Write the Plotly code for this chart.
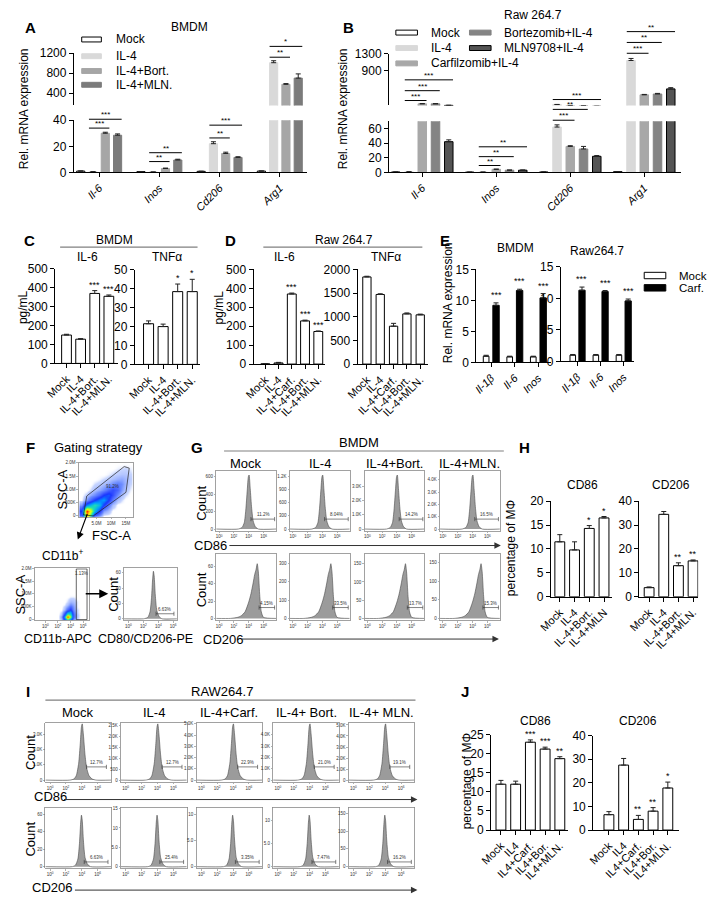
import plotly.graph_objects as go

W, H = 709, 904
FONT = "Arial, Liberation Sans, sans-serif"

# ======================= DATA =======================
# Panel A  (BMDM qPCR)
A_GENES = ["Il-6", "Inos", "Cd206", "Arg1"]
A_SERIES = ["Mock", "IL-4", "IL-4+Bort.", "IL-4+MLN."]
A_MOCK = [1.0, 0.6, 0.8, 1.0]
A_IL4 = [0.5, 0.3, 22.0, 1010.0]
A_BORT = [30.0, 3.0, 14.5, 575.0]
A_MLN = [28.5, 9.5, 11.5, 700.0]
A_MOCK_SD = [0.1, 0.1, 0.1, 0.1]
A_IL4_SD = [0.1, 0.05, 1.5, 40.0]
A_BORT_SD = [0.8, 0.3, 1.0, 15.0]
A_MLN_SD = [1.0, 0.6, 0.5, 85.0]
A_SIG = ["***", "***", "**", "**", "***", "**", "*", "**"]

# Panel B  (Raw 264.7 qPCR)
B_GENES = ["Il-6", "Inos", "Cd206", "Arg1"]
B_SERIES = ["Mock", "IL-4", "Carfilzomib+IL-4", "Bortezomib+IL-4", "MLN9708+IL-4"]
B_MOCK = [0.5, 0.3, 0.5, 1.0]
B_IL4 = [0.8, 0.4, 62.0, 1140.0]
B_CARF = [80.0, 4.2, 35.5, 300.0]
B_BORT = [80.0, 3.0, 32.0, 320.0]
B_MLN = [42.0, 3.0, 22.0, 445.0]
B_MOCK_SD = [0.1, 0.1, 0.1, 0.1]
B_IL4_SD = [0.1, 0.1, 3.0, 50.0]
B_CARF_SD = [5.0, 0.3, 1.0, 10.0]
B_BORT_SD = [5.0, 0.3, 3.5, 15.0]
B_MLN_SD = [2.5, 0.3, 1.0, 30.0]
B_SIG = ["***", "***", "***", "**", "**", "**", "***", "**", "***", "**", "**", "***"]

# Panel C  (BMDM ELISA)
C_CATS = ["Mock", "IL-4", "IL-4+Bort.", "IL-4+MLN."]
C_IL6 = [150, 128, 370, 355]
C_IL6_SD = [4, 3, 15, 7]
C_IL6_SIG = ["", "", "***", "***"]
C_TNF = [21.5, 20.0, 38.5, 38.5]
C_TNF_SD = [1.5, 1.3, 4.0, 6.5]
C_TNF_SIG = ["", "", "*", "*"]

# Panel D  (Raw 264.7 ELISA)
D_CATS = ["Mock", "IL-4", "IL-4+Carf.", "IL-4+Bort.", "IL-4+MLN."]
D_IL6 = [1, 6, 370, 228, 172]
D_IL6_SD = [0.5, 3, 5, 4, 3]
D_IL6_SIG = ["", "", "***", "***", "***"]
D_TNF = [1840, 1470, 800, 1060, 1040]
D_TNF_SD = [15, 15, 60, 20, 15]

# Panel E
E_GENES = ["Il-1β", "Il-6", "Inos"]
E_BMDM_MOCK = [1.0, 0.9, 0.9]
E_BMDM_MOCK_SD = [0.15, 0.1, 0.1]
E_BMDM_CARF = [9.2, 11.6, 10.4]
E_BMDM_CARF_SD = [0.4, 0.2, 0.7]
E_RAW_MOCK = [1.0, 1.0, 1.0]
E_RAW_MOCK_SD = [0.1, 0.1, 0.1]
E_RAW_CARF = [11.3, 11.1, 9.6]
E_RAW_CARF_SD = [0.5, 0.15, 0.3]
E_SIG = ["***", "***", "***"]

# Panel H
H_CD86_CATS = ["Mock", "IL-4", "IL-4+Bort.", "IL-4+MLN"]
H_CD206_CATS = ["Mock", "IL-4", "IL-4+Bort.", "IL-4+MLN."]
H_CD86 = [11.5, 9.8, 14.3, 16.5]
H_CD86_SD = [1.5, 1.7, 0.6, 0.3]
H_CD86_SIG = ["", "", "*", "*"]
H_CD206 = [3.8, 34.5, 13.0, 15.0]
H_CD206_SD = [0.3, 1.2, 1.2, 0.4]
H_CD206_SIG = ["", "", "**", "**"]

# Panel J
J_CATS = ["Mock", "IL4", "IL4+Carf.", "IL4+Bor.", "IL4+MLN."]
J_CD86 = [12.0, 12.0, 23.0, 21.2, 18.7]
J_CD86_SD = [1.0, 0.8, 0.6, 0.5, 0.5]
J_CD86_SIG = ["", "", "***", "***", "**"]
J_CD206 = [6.5, 27.5, 4.5, 8.0, 17.8]
J_CD206_SD = [1.3, 2.8, 1.7, 1.5, 2.5]
J_CD206_SIG = ["", "", "**", "**", "*"]

# Panel F  (gating)
FSC_M = [0, 1.5, 3, 4.5, 6, 7.5, 9, 10.5, 12, 13.5, 15, 16.5]
SSC_M = [0, 0.2, 0.4, 0.6, 0.8, 1.0, 1.2, 1.4, 1.6, 1.8, 2.0]
FSC_SSC_DENSITY = [
    [2, 9, 6, 2, 1, 0, 0, 0, 0, 0, 0, 0],
    [3, 10, 8, 5, 3, 1, 0.5, 0, 0, 0, 0, 0],
    [1, 4, 5, 6, 5, 3, 1.5, 0.5, 0, 0, 0, 0],
    [0, 1, 2, 3, 4, 4.5, 3, 1.5, 0.5, 0.2, 0, 0],
    [0, 0.3, 0.8, 1.2, 2, 3, 3.5, 2.5, 1.2, 0.5, 0.2, 0],
    [0, 0, 0.2, 0.5, 0.8, 1.2, 2, 2.5, 2, 1, 0.4, 0.1],
    [0, 0, 0, 0.2, 0.3, 0.5, 0.8, 1.2, 1.5, 1.2, 0.6, 0.2],
    [0, 0, 0, 0, 0.1, 0.2, 0.3, 0.5, 0.7, 0.8, 0.6, 0.3],
    [0, 0, 0, 0, 0, 0, 0.1, 0.2, 0.3, 0.4, 0.4, 0.2],
    [0, 0, 0, 0, 0, 0, 0, 0, 0.1, 0.15, 0.2, 0.1],
    [0, 0, 0, 0, 0, 0, 0, 0, 0, 0, 0, 0],
]
GATE1_X = [0.6, 3.9, 15.0, 16.1, 14.4, 1.7, 0.6]
GATE1_Y = [0.04, 0.0, 0.89, 1.8, 1.86, 0.75, 0.04]
GATE1_PCT = "91.2%"

CD11B_LOG = [2.0, 2.5, 3.0, 3.5, 4.0, 4.5, 5.0, 5.5]
CD11B_SSC = [0, 0.1, 0.2, 0.3, 0.4, 0.5, 0.6, 0.7, 0.8, 0.9, 1.0]
CD11B_DENSITY = [
    [0, 0.5, 3, 6, 4, 1, 0.2, 0],
    [0, 1, 5, 10, 7, 2, 0.3, 0],
    [0, 0.5, 3, 7, 6, 2, 0.3, 0],
    [0, 0.2, 1.5, 4, 4.5, 1.5, 0.2, 0],
    [0, 0, 0.6, 2, 3, 1.2, 0.2, 0],
    [0, 0, 0.3, 1, 2, 1, 0.1, 0],
    [0, 0, 0.1, 0.5, 1.2, 0.8, 0.1, 0],
    [0, 0, 0, 0.2, 0.6, 0.5, 0.1, 0],
    [0, 0, 0, 0.1, 0.3, 0.3, 0, 0],
    [0, 0, 0, 0, 0.1, 0.1, 0, 0],
    [0, 0, 0, 0, 0, 0, 0, 0],
]
GATE2_X = [4.9, 6.6, 6.6, 4.9, 4.9]
GATE2_Y = [0.0, 0.0, 1.97, 1.97, 0.0]
GATE2_PCT = "1.13%"

F_HIST_X = [-0.6, 2.0, 2.6, 2.9, 3.1, 3.25, 3.35, 3.45, 3.6, 3.8, 4.1, 4.5, 6.5]
F_HIST_Y = [0, 0, 0.03, 0.15, 0.45, 0.85, 1.0, 0.9, 0.5, 0.18, 0.05, 0, 0]
F_HIST_PEAK = 62
F_HIST_PCT = "6.63%"

# Panel G  (BMDM flow histograms)
G_TITLES = ["Mock", "IL-4", "IL-4+Bort.", "IL-4+MLN."]
G_CD86_X = [-0.4, 2.6, 3.1, 3.4, 3.6, 3.8, 3.95, 4.05, 4.2, 4.4, 4.6, 4.9, 5.3, 7.7]
G_CD86_Y = [0, 0, 0.03, 0.12, 0.35, 0.72, 0.97, 1.0, 0.75, 0.38, 0.15, 0.04, 0, 0]
G_CD86_PEAK = [620, 1230, 3800, 4380]
G_CD86_TICKS = [[0, 200, 400, 600], [0, 300, 600, 900, 1200], [0, 1000, 2000, 3000],
                [0, 1000, 2000, 3000, 4000]]
G_CD86_TICKTEXT = [["0", "200", "400", "600"], ["0", "300", "600", "900", "1.2K"],
                   ["0", "1.0K", "2.0K", "3.0K"], ["0", "1.0K", "2.0K", "3.0K", "4.0K"]]
G_CD86_PCT = ["11.2%", "8.04%", "14.2%", "16.5%"]

G_CD206_X = [-0.4, 1.5, 2.5, 3.0, 3.5, 4.0, 4.3, 4.6, 4.8, 5.0, 5.15, 5.3, 5.5, 5.7, 6.0, 7.7]
G_CD206_Y = [0, 0, 0.02, 0.05, 0.12, 0.3, 0.45, 0.65, 0.8, 0.9, 1.0, 0.85, 0.4, 0.12, 0.02, 0]
G_CD206_PEAK = [63, 299, 150, 147]
G_CD206_TICKS = [[0, 20, 40, 60], [0, 100, 200, 300], [0, 50, 100, 150], [0, 50, 100, 150]]
G_CD206_TICKTEXT = [["0", "20", "40", "60"], ["0", "100", "200", "300"],
                    ["0", "50", "100", "150"], ["0", "50", "100", "150"]]
G_CD206_PCT = ["4.15%", "33.5%", "13.7%", "15.3%"]

# Panel I  (RAW264.7 flow histograms)
I_TITLES = ["Mock", "IL-4", "IL-4+Carf.", "IL-4+ Bort.", "IL-4+ MLN."]
I_CD86_X = [-0.6, 2.5, 3.0, 3.3, 3.6, 3.8, 3.95, 4.05, 4.2, 4.4, 4.6, 4.9, 5.3, 5.8, 7.7]
I_CD86_Y = [0, 0, 0.02, 0.08, 0.3, 0.65, 0.95, 1.0, 0.8, 0.45, 0.22, 0.08, 0.02, 0, 0]
I_CD86_PEAK = [3700, 2570, 5000, 4960, 5100]
I_CD86_TICKS = [[0, 1000, 2000, 3000], [0, 500, 1000, 1500, 2000, 2500],
                [0, 1000, 2000, 3000, 4000, 5000], [0, 1000, 2000, 3000, 4000],
                [0, 1000, 2000, 3000, 4000, 5000]]
I_CD86_TICKTEXT = [["0", "1.0K", "2.0K", "3.0K"], ["0", "500", "1.0K", "1.5K", "2.0K", "2.5K"],
                   ["0", "1.0K", "2.0K", "3.0K", "4.0K", "5.0K"], ["0", "1.0K", "2.0K", "3.0K", "4.0K"],
                   ["0", "1.0K", "2.0K", "3.0K", "4.0K", "5.0K"]]
I_CD86_PCT = ["12.7%", "12.7%", "22.9%", "21.0%", "19.1%"]

I_CD206_X = [-0.6, 2.8, 3.2, 3.5, 3.7, 3.85, 3.95, 4.05, 4.2, 4.4, 4.7, 5.1, 7.7]
I_CD206_Y = [0, 0, 0.03, 0.15, 0.45, 0.85, 1.0, 0.9, 0.5, 0.18, 0.05, 0, 0]
I_CD206_PEAK = [59, 13.3, 9.8, 11.2, 145]
I_CD206_TICKS = [[0, 20, 40, 60], [0, 5, 10, 15], [0, 5, 10, 15], [0, 5, 10, 15], [0, 50, 100, 150]]
I_CD206_TICKTEXT = [["0", "20", "40", "60"], ["0", "5.0", "10", "15"], ["0", "5.0", "10", "15"],
                    ["0", "5.0", "10", "15"], ["0", "50", "100", "150"]]
I_CD206_PCT = ["6.63%", "25.4%", "3.35%", "7.47%", "16.2%"]

LOG_TICKS = [0, 2, 4, 6]
LOG_TICKTEXT = ["10<sup>0</sup>", "10<sup>2</sup>", "10<sup>4</sup>", "10<sup>6</sup>"]

# ======================= LAYOUT HELPERS =======================
fig = go.Figure()
axes = {}
annotations = []
shapes = []
_axn = [0]
TINY = 4.5


def new_axes(x0, x1, ytop, ybot, xa, ya):
    _axn[0] += 1
    n = _axn[0]
    s = "" if n == 1 else str(n)
    xa = dict(xa)
    ya = dict(ya)
    xa.update(domain=[x0 / W, x1 / W], anchor="y" + s)
    ya.update(domain=[1 - ybot / H, 1 - ytop / H], anchor="x" + s)
    axes["xaxis" + s] = xa
    axes["yaxis" + s] = ya
    return "x" + s, "y" + s


def text(x, y, s, size=12, bold=False, anchor="center", angle=0, color="black"):
    annotations.append(dict(
        x=x / W, y=1 - y / H, xref="paper", yref="paper",
        text=("<b>%s</b>" % s) if bold else s, showarrow=False,
        font=dict(size=size, color=color, family=FONT),
        xanchor=anchor, yanchor="middle", textangle=angle))


def hline(x0, x1, y, color="#808080", width=1.2):
    shapes.append(dict(type="line", xref="paper", yref="paper", x0=x0 / W, x1=x1 / W,
                       y0=1 - y / H, y1=1 - y / H, line=dict(color=color, width=width)))


def rect(x0, x1, y0, y1, fill, line):
    shapes.append(dict(type="rect", xref="paper", yref="paper", x0=x0 / W, x1=x1 / W,
                       y0=1 - y1 / H, y1=1 - y0 / H, fillcolor=fill,
                       line=dict(color=line, width=1)))


def arrow(xh, yh, xt, yt, width=1.0, size=1.0, color="black"):
    annotations.append(dict(x=xh / W, y=1 - yh / H, xref="paper", yref="paper",
                            ax=xt - xh, ay=yt - yh, showarrow=True, arrowhead=2,
                            arrowsize=size, arrowwidth=width, arrowcolor=color, text=""))


BX = dict(type="category", showline=True, linecolor="black", linewidth=1, ticks="outside",
          ticklen=4, tickwidth=1, tickcolor="black", tickangle=-45,
          tickfont=dict(size=11, family=FONT), showgrid=False, zeroline=False)
BY = dict(showline=True, linecolor="black", linewidth=1, ticks="outside", ticklen=4,
          tickwidth=1, tickcolor="black", tickfont=dict(size=12, family=FONT),
          showgrid=False, zeroline=False)
HX = dict(showline=True, mirror=True, linecolor="#8a8a8a", linewidth=0.8, ticks="outside",
          ticklen=1.5, tickwidth=0.5, tickcolor="#666", tickfont=dict(size=TINY, color="#333"),
          showgrid=False, zeroline=False, tickvals=LOG_TICKS, ticktext=LOG_TICKTEXT)
HY = dict(showline=True, mirror=True, linecolor="#8a8a8a", linewidth=0.8, ticks="outside",
          ticklen=1.5, tickwidth=0.5, tickcolor="#666", tickfont=dict(size=TINY, color="#333"),
          showgrid=False, zeroline=False)


def add_bar(xn, yn, cats, vals, sd, color, lcolor, center, width, lw=1.0):
    fig.add_trace(go.Bar(
        x=cats, y=vals, xaxis=xn, yaxis=yn, offset=center - width / 2, width=width,
        marker=dict(color=color, line=dict(color=lcolor, width=lw)),
        error_y=dict(type="data", array=sd, arrayminus=[0] * len(sd), symmetric=False,
                     color="#222", thickness=1, width=2.5),
        showlegend=False, hoverinfo="skip"))


def stars(xn, yn, cats, vals, sd, sig, size=9):
    for c, v, e, s in zip(cats, vals, sd, sig):
        if s:
            annotations.append(dict(x=c, y=v + e, xref=xn, yref=yn, text=s, showarrow=False,
                                    yanchor="bottom", yshift=-1, font=dict(size=size, family=FONT)))


def simple_panel(x0, x1, ytop, ybot, cats, vals, sd, sig, xr, yr, ytv, width, italic=False):
    xa = dict(BX, range=xr)
    if italic:
        xa.update(tickmode="array", tickvals=cats, ticktext=["<i>%s</i>" % c for c in cats])
    xn, yn = new_axes(x0, x1, ytop, ybot, xa, dict(BY, range=yr, tickvals=ytv))
    add_bar(xn, yn, cats, vals, sd, "white", "black", 0, width)
    if sig:
        stars(xn, yn, cats, vals, sd, sig)
    return xn, yn


def hist(x0, ytop, w, h, xr, xs, shape, peak, ymax, ticks, ticktext, gate, gfrac, pct):
    xn, yn = new_axes(x0, x0 + w, ytop, ytop + h, dict(HX, range=xr),
                      dict(HY, range=[-0.03 * ymax, ymax], tickvals=ticks, ticktext=ticktext))
    fig.add_trace(go.Scatter(x=xs, y=[v * peak for v in shape], mode="lines",
                             line=dict(color="#4a4a4a", width=0.6, shape="spline", smoothing=0.6),
                             fill="tozeroy", fillcolor="#9b9b9b", xaxis=xn, yaxis=yn,
                             hoverinfo="skip", showlegend=False))
    gy = gfrac * ymax
    fig.add_trace(go.Scatter(x=gate, y=[gy, gy], mode="lines+markers", xaxis=xn, yaxis=yn,
                             line=dict(color="#333", width=0.6),
                             marker=dict(symbol="line-ns-open", size=3, color="#333",
                                         line=dict(width=0.6, color="#333")),
                             hoverinfo="skip", showlegend=False))
    annotations.append(dict(x=(gate[0] + gate[1]) / 2, y=gy, xref=xn, yref=yn, text=pct,
                            showarrow=False, yanchor="bottom", yshift=0,
                            font=dict(size=TINY, color="#333")))
    return xn, yn


# ======================= PANEL A =======================
A_VALS = [A_MOCK, A_IL4, A_BORT, A_MLN]
A_SDS = [A_MOCK_SD, A_IL4_SD, A_BORT_SD, A_MLN_SD]
A_FILL = ["white", "#d9d9d9", "#a6a6a6", "#7b7b7b"]
A_LINE = ["black", "#d9d9d9", "#a6a6a6", "#7b7b7b"]
A_STEP, A_W = 0.204, 0.135
A_XR = [-0.42, 3.46]
A_ITAL = dict(tickmode="array", tickvals=A_GENES, ticktext=["<i>%s</i>" % g for g in A_GENES])

xaU, yaU = new_axes(62, 300, 47, 100, dict(BX, range=A_XR, visible=False),
                    dict(BY, range=[150, 1200], tickvals=[400, 800, 1200]))
xaL, yaL = new_axes(62, 300, 115, 168, dict(BX, range=A_XR, **A_ITAL),
                    dict(BY, range=[0, 40], tickvals=[0, 20, 40]))
for xn, yn in [(xaU, yaU), (xaL, yaL)]:
    for i in range(4):
        add_bar(xn, yn, A_GENES, A_VALS[i], A_SDS[i], A_FILL[i], A_LINE[i], (i - 1.5) * A_STEP, A_W)

A_SIG_POS = [(0, 3, 114), (0, 2, 123), (1, 3, 148), (1, 2, 157),
             (2, 3, 120), (2, 2, 133), (3, 3, 40), (3, 2, 51)]
for (g, t, ypx), s in zip(A_SIG_POS, A_SIG):
    x0 = g + (1 - 1.5) * A_STEP - A_W / 2
    x1 = g + (t - 1.5) * A_STEP + A_W / 2
    shapes.append(dict(type="line", xref=xaL, yref="paper", x0=x0, x1=x1,
                       y0=1 - ypx / H, y1=1 - ypx / H, line=dict(color="black", width=1)))
    annotations.append(dict(x=(x0 + x1) / 2, y=1 - ypx / H, xref=xaL, yref="paper", text=s,
                            showarrow=False, yanchor="bottom", yshift=-2, font=dict(size=8)))

text(18, 21, "A", 15, bold=True)
text(180, 20, "BMDM", 12)
text(12, 103, "Rel. mRNA expression", 12, angle=-90)
for i, name in enumerate(A_SERIES):
    yy = [33, 50, 65, 79][i]
    rect(70, 90, yy - 2.5, yy + 2.5, A_FILL[i], A_LINE[i])
    text(103, yy, name, 12, anchor="left")

# ======================= PANEL B =======================
B_VALS = [B_MOCK, B_IL4, B_CARF, B_BORT, B_MLN]
B_SDS = [B_MOCK_SD, B_IL4_SD, B_CARF_SD, B_BORT_SD, B_MLN_SD]
B_FILL = ["white", "#d9d9d9", "#a8a8a8", "#848484", "#545454"]
B_LINE = ["black", "#d9d9d9", "#a8a8a8", "#848484", "black"]
B_STEP, B_W = 0.179, 0.115
B_XR = [-0.45, 3.49]
B_ITAL = dict(tickmode="array", tickvals=B_GENES, ticktext=["<i>%s</i>" % g for g in B_GENES])

xbU, ybU = new_axes(383, 680, 47.7, 100, dict(BX, range=B_XR, visible=False),
                    dict(BY, range=[40, 1300], tickvals=[900, 1300]))
xbL, ybL = new_axes(383, 680, 116, 168, dict(BX, range=B_XR, **B_ITAL),
                    dict(BY, range=[0, 70], tickvals=[0, 20, 40, 60]))
for xn, yn in [(xbU, ybU), (xbL, ybL)]:
    for i in range(5):
        add_bar(xn, yn, B_GENES, B_VALS[i], B_SDS[i], B_FILL[i], B_LINE[i], (i - 2) * B_STEP, B_W)

B_SIG_POS = [(0, 4, 74), (0, 3, 85), (0, 2, 95), (1, 4, 142), (1, 3, 152), (1, 2, 161),
             (2, 4, 94), (2, 3, 104), (2, 2, 115), (3, 4, 25), (3, 3, 36), (3, 2, 47)]
for (g, t, ypx), s in zip(B_SIG_POS, B_SIG):
    x0 = g + (1 - 2) * B_STEP - B_W / 2
    x1 = g + (t - 2) * B_STEP + B_W / 2
    shapes.append(dict(type="line", xref=xbL, yref="paper", x0=x0, x1=x1,
                       y0=1 - ypx / H, y1=1 - ypx / H, line=dict(color="black", width=1)))
    annotations.append(dict(x=(x0 + x1) / 2, y=1 - ypx / H, xref=xbL, yref="paper", text=s,
                            showarrow=False, yanchor="bottom", yshift=-2, font=dict(size=8)))

text(342, 21, "B", 15, bold=True)
text(530, 8, "Raw 264.7", 12)
text(337, 103, "Rel. mRNA expression", 12, angle=-90)
B_LEG_POS = [(390, 424, 26), (390, 424, 41.7), (390, 424, 57.3), (465, 498, 26), (465, 498, 41.7)]
for i, name in enumerate(B_SERIES):
    rx, tx, yy = B_LEG_POS[i]
    rect(rx, rx + 22, yy - 2.5, yy + 2.5, B_FILL[i], B_LINE[i])
    text(tx, yy, name, 12, anchor="left")

# ======================= PANEL C =======================
simple_panel(43, 107, 266, 362, C_CATS, C_IL6, C_IL6_SD, C_IL6_SIG, [-0.8, 3.65], [0, 500],
             [0, 100, 200, 300, 400, 500], 0.69)
simple_panel(124, 190, 267, 363, C_CATS, C_TNF, C_TNF_SD, C_TNF_SIG, [-0.95, 3.5], [0, 50],
             [0, 10, 20, 30, 40, 50], 0.69)
text(17, 237, "C", 15, bold=True)
text(103, 237, "BMDM", 12)
hline(48, 188, 244)
text(76, 254, "IL-6", 12)
text(157, 254, "TNFα", 12)
text(10, 305, "pg/mL", 12, angle=-90)

# ======================= PANEL D =======================
simple_panel(245, 318, 266.5, 362.7, D_CATS, D_IL6, D_IL6_SD, D_IL6_SIG, [-0.89, 4.52], [0, 500],
             [0, 100, 200, 300, 400, 500], 0.67)
simple_panel(351, 423, 266.5, 362.7, D_CATS, D_TNF, D_TNF_SD, None, [-0.7, 4.6], [0, 2000],
             [0, 500, 1000, 1500, 2000], 0.62)
text(222, 237, "D", 15, bold=True)
text(337, 237, "Raw 264.7", 12)
hline(255, 417, 244)
text(277, 254, "IL-6", 12)
text(380, 254, "TNFα", 12)
text(210, 305, "pg/mL", 12, angle=-90)

# ======================= PANEL E =======================
E_ITAL = dict(tickmode="array", tickvals=E_GENES, ticktext=["<i>%s</i>" % g for g in E_GENES])
xe1, ye1 = new_axes(472, 548, 266.5, 361, dict(BX, range=[-0.625, 2.54], **E_ITAL),
                    dict(BY, range=[0, 15], tickvals=[0, 5, 10, 15]))
add_bar(xe1, ye1, E_GENES, E_BMDM_MOCK, E_BMDM_MOCK_SD, "white", "black", -0.21, 0.24)
add_bar(xe1, ye1, E_GENES, E_BMDM_CARF, E_BMDM_CARF_SD, "black", "black", 0.21, 0.27)
xe2, ye2 = new_axes(558, 633, 264, 360, dict(BX, range=[-0.72, 2.47], **E_ITAL),
                    dict(BY, range=[0, 15], tickvals=[0, 5, 10, 15]))
add_bar(xe2, ye2, E_GENES, E_RAW_MOCK, E_RAW_MOCK_SD, "white", "black", -0.2, 0.24)
add_bar(xe2, ye2, E_GENES, E_RAW_CARF, E_RAW_CARF_SD, "black", "black", 0.2, 0.27)
for c, v, e, s in zip(E_GENES, E_BMDM_CARF, E_BMDM_CARF_SD, E_SIG):
    annotations.append(dict(x=E_GENES.index(c) + 0.21, y=v + e, xref=xe1, yref=ye1, text=s,
                            showarrow=False, yanchor="bottom", yshift=1, font=dict(size=9)))
for c, v, e, s in zip(E_GENES, E_RAW_CARF, E_RAW_CARF_SD, E_SIG):
    annotations.append(dict(x=E_GENES.index(c) + 0.2, y=v + e, xref=xe2, yref=ye2, text=s,
                            showarrow=False, yanchor="bottom", yshift=1, font=dict(size=9)))
text(440, 237, "E", 15, bold=True)
text(512, 245, "BMDM", 12)
text(595, 248, "Raw264.7", 12)
text(443, 300, "Rel. mRNA expression", 12, angle=-90)
rect(643, 665, 269.5, 276, "white", "black")
text(676, 273, "Mock", 11.5, anchor="left")
rect(643, 665, 282, 288.5, "black", "black")
text(676, 285.5, "Carf.", 11.5, anchor="left")

# ======================= PANEL F =======================
JET = [[0, "rgba(255,255,255,0)"], [0.02, "#c8d6ff"], [0.12, "#6c8cff"], [0.3, "#1a35ff"],
       [0.45, "#00a0ff"], [0.6, "#20e0b0"], [0.72, "#a0ff30"], [0.82, "#ffff00"],
       [0.92, "#ff8800"], [1, "#ff1000"]]
xf1, yf1 = new_axes(67, 122, 463, 518,
                    dict(HX, range=[-1, 17.3], tickvals=[5, 10, 15], ticktext=["5.0M", "10M", "15M"]),
                    dict(HY, range=[-0.04, 2.0], tickvals=[0, 0.5, 1.0, 1.5, 2.0],
                         ticktext=["0", "500K", "1.0M", "1.5M", "2.0M"]))
fig.add_trace(go.Heatmap(x=FSC_M, y=SSC_M, z=FSC_SSC_DENSITY, colorscale=JET, zmin=0, zmax=10,
                         zsmooth="best", showscale=False, xaxis=xf1, yaxis=yf1, hoverinfo="skip"))
fig.add_trace(go.Scatter(x=GATE1_X, y=GATE1_Y, mode="lines", line=dict(color="#222", width=0.7),
                         xaxis=xf1, yaxis=yf1, hoverinfo="skip", showlegend=False))
annotations.append(dict(x=10.5, y=1.12, xref=xf1, yref=yf1, text=GATE1_PCT, showarrow=False,
                        font=dict(size=TINY, color="#333")))

xf2, yf2 = new_axes(22, 78, 570, 623,
                    dict(HX, range=[-1.7, 7.0]),
                    dict(HY, range=[-0.03, 2.0], tickvals=[0, 0.5, 1.0, 1.5, 2.0],
                         ticktext=["0", "500K", "1.0M", "1.5M", "2.0M"]))
fig.add_trace(go.Heatmap(x=CD11B_LOG, y=CD11B_SSC, z=CD11B_DENSITY, colorscale=JET, zmin=0, zmax=10,
                         zsmooth="best", showscale=False, xaxis=xf2, yaxis=yf2, hoverinfo="skip"))
fig.add_trace(go.Scatter(x=GATE2_X, y=GATE2_Y, mode="lines", line=dict(color="#222", width=0.7),
                         xaxis=xf2, yaxis=yf2, hoverinfo="skip", showlegend=False))
annotations.append(dict(x=5.75, y=1.95, xref=xf2, yref=yf2, text=GATE2_PCT, showarrow=False,
                        yanchor="top", font=dict(size=TINY, color="#333")))

hist(113, 570, 54, 53, [-0.6, 6.5], F_HIST_X, F_HIST_Y, F_HIST_PEAK, 66,
     [0, 20, 40, 60], ["0", "20", "40", "60"], [3.7, 6.1], 0.1, F_HIST_PCT)

text(18, 447, "F", 15, bold=True)
text(87, 447, "Gating strategy", 13)
text(50, 490, "SSC-A", 13, angle=-90)
text(100, 537, "FSC-A", 13)
arrow(66, 541, 76, 514, width=1.2, size=1.2)
text(50, 557, "CD11b<sup>+</sup>", 12)
text(8, 597, "SSC-A", 13, angle=-90)
arrow(97, 596, 73, 596, width=1.5, size=1.2)
text(103, 597, "Count", 13, angle=-90)
text(46, 642, "CD11b-APC", 12.5)
text(135, 642, "CD80/CD206-PE", 12.5)

# ======================= PANEL G =======================
G_LEFT = [207, 282, 358, 435]
G_W = 61
for i in range(4):
    hist(G_LEFT[i], 471, G_W, 61, [-0.4, 7.7], G_CD86_X, G_CD86_Y, G_CD86_PEAK[i],
         G_CD86_PEAK[i] * 1.08, G_CD86_TICKS[i], G_CD86_TICKTEXT[i], [4.3, 7.5], 0.17, G_CD86_PCT[i])
    hist(G_LEFT[i], 556, G_W, 67, [-0.4, 7.7], G_CD206_X, G_CD206_Y, G_CD206_PEAK[i],
         G_CD206_PEAK[i] * 1.17, G_CD206_TICKS[i], G_CD206_TICKTEXT[i], [5.4, 7.5], 0.17,
         G_CD206_PCT[i])
    text(G_LEFT[i] + G_W / 2, 464, G_TITLES[i], 13)
text(187, 447, "G", 15, bold=True)
text(352, 442, "BMDM", 13)
hline(215, 500, 451)
text(192, 504, "Count", 13, angle=-90)
text(192, 592, "Count", 13, angle=-90)
text(201, 547, "CD86", 13)
arrow(497, 547, 224, 547, width=1, size=1.3, color="#333")
text(214, 642, "CD206", 13)
arrow(495, 642, 236, 642, width=1, size=1.3, color="#333")

# ======================= PANEL H =======================
simple_panel(548, 610, 502, 599, H_CD86_CATS, H_CD86, H_CD86_SD, H_CD86_SIG, [-0.6, 3.53], [0, 20],
             [0, 5, 10, 15, 20], 0.67)
simple_panel(638, 698, 502, 599, H_CD206_CATS, H_CD206, H_CD206_SD, H_CD206_SIG, [-0.67, 3.35],
             [0, 40], [0, 10, 20, 30, 40], 0.67)
text(521, 447, "H", 15, bold=True)
text(580, 486, "CD86", 12)
text(670, 486, "CD206", 12)
text(508, 550, "percentage of MΦ", 12, angle=-90)

# ======================= PANEL I =======================
I_LEFT = [33, 110, 187, 265, 342]
I_W = 67
for i in range(5):
    hist(I_LEFT[i], 727, I_W, 60, [-0.6, 7.7], I_CD86_X, I_CD86_Y, I_CD86_PEAK[i],
         I_CD86_PEAK[i] * 1.02, I_CD86_TICKS[i], I_CD86_TICKTEXT[i], [4.6, 7.1], 0.23, I_CD86_PCT[i])
    hist(I_LEFT[i], 813, I_W, 62, [-0.6, 7.7], I_CD206_X, I_CD206_Y, I_CD206_PEAK[i],
         I_CD206_PEAK[i] * 1.15, I_CD206_TICKS[i], I_CD206_TICKTEXT[i], [4.3, 7.3], 0.08,
         I_CD206_PCT[i])
    text(I_LEFT[i] + I_W / 2, 717, I_TITLES[i], 13)
text(15, 695, "I", 15, bold=True)
text(213, 695, "RAW264.7", 13)
hline(33, 410, 704)
text(18, 757, "Count", 13, angle=-90)
text(18, 845, "Count", 13, angle=-90)
text(38, 802, "CD86", 13)
arrow(412, 805, 57, 805, width=1, size=1.3, color="#333")
text(40, 894, "CD206", 13)
arrow(412, 897, 68, 897, width=1, size=1.3, color="#333")

# ======================= PANEL J =======================
simple_panel(487, 565, 739, 836, J_CATS, J_CD86, J_CD86_SD, J_CD86_SIG, [-0.67, 4.53], [0, 25],
             [0, 5, 10, 15, 20, 25], 0.67)
simple_panel(591, 678, 740, 836, J_CATS, J_CD206, J_CD206_SD, J_CD206_SIG, [-1.07, 4.73], [0, 40],
             [0, 10, 20, 30, 40], 0.67)
text(460, 695, "J", 15, bold=True)
text(532, 725, "CD86", 12)
text(637, 725, "CD206", 12)
text(462, 787, "percentage of MΦ", 12, angle=-90)

fig.update_layout(width=W, height=H, margin=dict(l=0, r=0, t=0, b=0),
                  paper_bgcolor="white", plot_bgcolor="rgba(0,0,0,0)", barmode="overlay",
                  showlegend=False, font=dict(family=FONT, color="black"),
                  hovermode=False, annotations=annotations, shapes=shapes, **axes)
fig.write_html("out.html", config={"displayModeBar": False, "staticPlot": True},
               post_script="document.body.style.margin='0';document.body.style.overflow='hidden';")
